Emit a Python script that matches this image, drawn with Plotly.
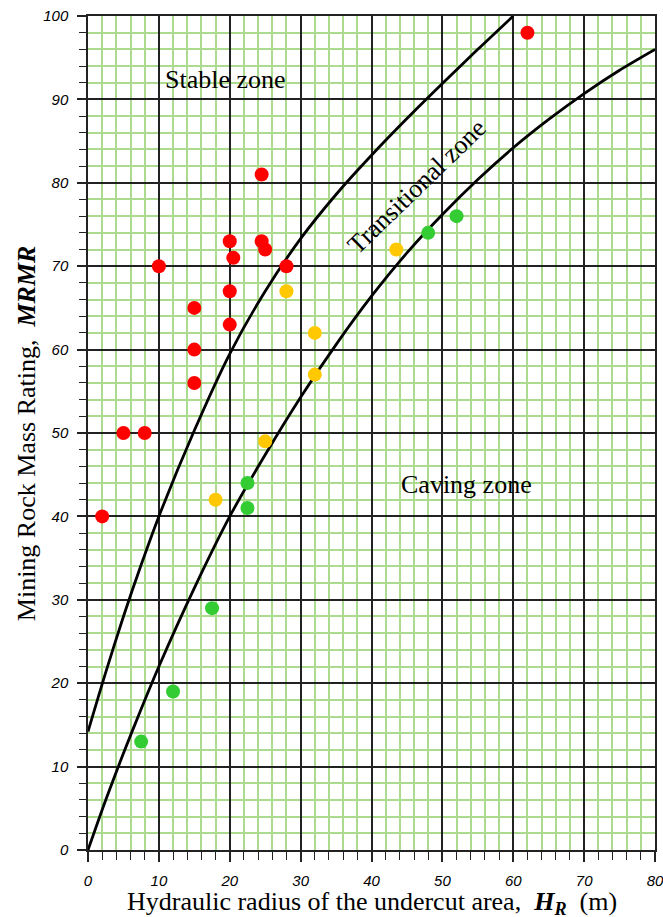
import plotly.graph_objects as go

# Boundary curves
upper_x = [0, 2.5, 5, 7.5, 10, 15, 20, 25, 30, 35, 40, 45, 50, 55, 60]
upper_y = [14.2, 21.3, 28, 34.2, 40, 50.3, 59.5, 67.0, 73.3, 78.6, 83.3, 87.7, 91.9, 96.0, 100]
lower_x = [0, 2.5, 5, 7.5, 10, 15, 20, 25, 30, 35, 40, 45, 50, 55, 60, 65, 70, 75, 80]
lower_y = [0, 6, 11.6, 16.9, 22, 31.4, 40, 47.4, 54.3, 60.6, 66.4, 71.6, 76.2, 80.4, 84.2, 87.6, 90.7, 93.5, 96]

# Case histories
red_x = [2, 5, 8, 10, 15, 15, 15, 20, 20, 20, 20.5, 24.5, 24.5, 25, 28, 62]
red_y = [40, 50, 50, 70, 65, 60, 56, 73, 67, 63, 71, 81, 73, 72, 70, 98]
yellow_x = [18, 25, 28, 32, 32, 43.5]
yellow_y = [42, 49, 67, 62, 57, 72]
green_x = [7.5, 12, 17.5, 22.5, 22.5, 48, 52]
green_y = [13, 19, 29, 44, 41, 74, 76]

fig = go.Figure()
for cx, cy in [(upper_x, upper_y), (lower_x, lower_y)]:
    fig.add_trace(go.Scatter(x=cx, y=cy, mode="lines",
                             line=dict(color="black", width=2.8, shape="spline", smoothing=0.8),
                             hoverinfo="skip", showlegend=False))
for px, py, col in [(red_x, red_y, "#ff0000"), (yellow_x, yellow_y, "#ffc800"),
                    (green_x, green_y, "#33cc33")]:
    fig.add_trace(go.Scatter(x=px, y=py, mode="markers",
                             marker=dict(color=col, size=14, line=dict(width=0)),
                             showlegend=False))

green_grid = "#acda8e"
tickfont = dict(family="Liberation Sans", size=15, color="black", style="italic")
common = dict(showgrid=True, gridcolor="#222222", gridwidth=1.5, automargin=False,
              zeroline=False, showline=True, linecolor="#222222", linewidth=1.5, mirror=True,
              ticks="outside", tickcolor="#222222", tickwidth=1.5,
              tickmode="linear", tick0=0, dtick=10,
              tickfont=tickfont, ticklabelstandoff=6, ticklabeloverflow="allow")
minor = dict(tick0=0, dtick=2, showgrid=True, gridcolor=green_grid, gridwidth=2,
             ticks="outside", tickcolor="#222222", tickwidth=1)
fig.update_xaxes(range=[0, 80], ticklen=10, minor=dict(minor, ticklen=8), **common)
fig.update_yaxes(range=[0, 100], ticklen=9, minor=dict(minor, ticklen=7), **common)

serif = dict(family="Liberation Serif", size=26, color="black")
annots = [
    dict(x=19.4, y=92.4, xref="x", yref="y", text="Stable zone", showarrow=False, font=serif),
    dict(x=53.4, y=43.8, xref="x", yref="y", text="Caving zone", showarrow=False, font=serif),
    dict(x=46.4, y=79.5, xref="x", yref="y", text="Transitional zone", showarrow=False,
         font=serif, textangle=-44),
    dict(x=0.5, y=-0.064, xref="paper", yref="paper", xanchor="center", yanchor="middle",
         text="Hydraulic radius of the undercut area,&nbsp;&nbsp;<b><i>H</i></b><sub><b><i>R</i></b></sub>&nbsp;&nbsp;(m)",
         showarrow=False, font=serif),
    dict(x=-0.109, y=0.5, xref="paper", yref="paper", xanchor="center", yanchor="middle",
         text="Mining Rock Mass Rating,&nbsp;&nbsp;<b><i>MRMR</i></b>", textangle=-90,
         showarrow=False, font=serif),
]
fig.update_layout(width=663, height=917, margin=dict(l=88, r=8, t=16, b=67, autoexpand=False),
                  paper_bgcolor="white", plot_bgcolor="white", annotations=annots,
                  showlegend=False)
fig.write_html("out.html")
